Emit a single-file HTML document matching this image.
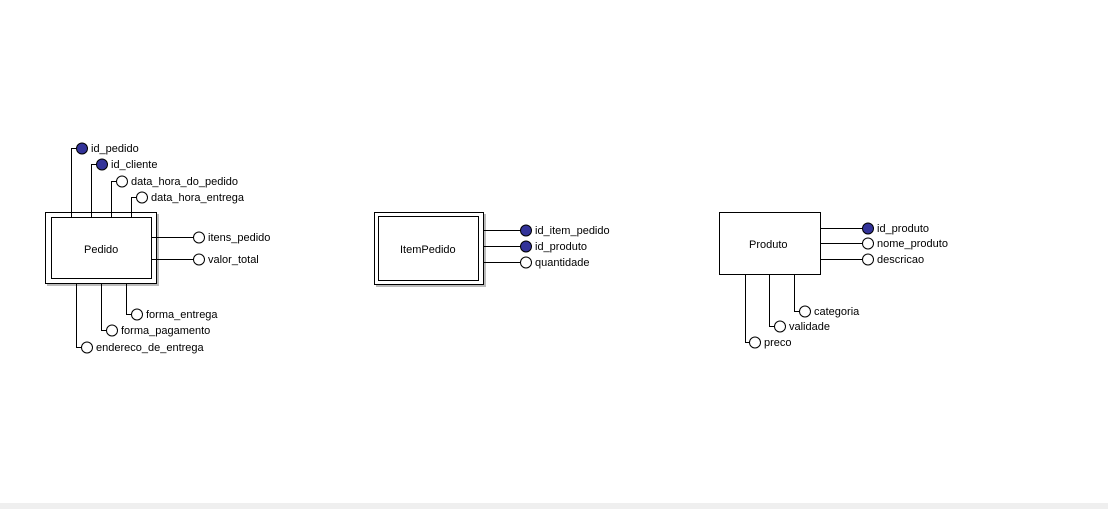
<!DOCTYPE html>
<html><head><meta charset="utf-8"><style>
html,body{margin:0;padding:0;background:#fff;width:1108px;height:509px;overflow:hidden}
svg{display:block}
text{font-family:"Liberation Sans",sans-serif;font-size:11px;fill:#000}
</style></head><body>
<svg width="1108" height="509" xmlns="http://www.w3.org/2000/svg">
<rect x="0" y="503" width="1108" height="6" fill="#efefef"/>
<g stroke="#000" stroke-width="1" fill="none" shape-rendering="crispEdges">
<!-- Pedido -->
<rect x="47" y="214" width="112" height="72" fill="#bbb" stroke="none"/>
<rect x="45.5" y="212.5" width="111" height="71" fill="#fff"/>
<rect x="51.5" y="217.5" width="100" height="61" fill="#fff"/>
<path d="M71.5 217V148.5H77 M91.5 217V164.5H97 M111.5 217V181.5H117 M131.5 217V197.5H137"/>
<path d="M152 237.5H194 M152 259.5H194"/>
<path d="M76.5 284V347.5H82 M101.5 284V330.5H107 M126.5 284V314.5H132"/>
<!-- ItemPedido -->
<rect x="376" y="214" width="110" height="73" fill="#bbb" stroke="none"/>
<rect x="374.5" y="212.5" width="109" height="72" fill="#fff"/>
<rect x="378.5" y="216.5" width="100" height="64" fill="#fff"/>
<path d="M484 230.5H521 M484 246.5H521 M484 262.5H521"/>
<!-- Produto -->
<rect x="719.5" y="212.5" width="101" height="62" fill="#fff"/>
<path d="M821 228.5H863 M821 243.5H863 M821 259.5H863"/>
<path d="M745.5 275V342.5H750 M769.5 275V326.5H775 M794.5 275V311.5H800"/>
</g>
<g stroke="#000" stroke-width="1">
<circle cx="82" cy="148.5" r="5.5" fill="#333399"/>
<circle cx="102" cy="164.5" r="5.5" fill="#333399"/>
<circle cx="122" cy="181.5" r="5.5" fill="#fff"/>
<circle cx="142" cy="197.5" r="5.5" fill="#fff"/>
<circle cx="199" cy="237.5" r="5.5" fill="#fff"/>
<circle cx="199" cy="259.5" r="5.5" fill="#fff"/>
<circle cx="137" cy="314.5" r="5.5" fill="#fff"/>
<circle cx="112" cy="330.5" r="5.5" fill="#fff"/>
<circle cx="87" cy="347.5" r="5.5" fill="#fff"/>
<circle cx="526" cy="230.5" r="5.5" fill="#333399"/>
<circle cx="526" cy="246.5" r="5.5" fill="#333399"/>
<circle cx="526" cy="262.5" r="5.5" fill="#fff"/>
<circle cx="868" cy="228.5" r="5.5" fill="#333399"/>
<circle cx="868" cy="243.5" r="5.5" fill="#fff"/>
<circle cx="868" cy="259.5" r="5.5" fill="#fff"/>
<circle cx="805" cy="311.5" r="5.5" fill="#fff"/>
<circle cx="780" cy="326.5" r="5.5" fill="#fff"/>
<circle cx="755" cy="342.5" r="5.5" fill="#fff"/>
</g>
<text x="84" y="253">Pedido</text>
<text x="400" y="253">ItemPedido</text>
<text x="749" y="248">Produto</text>
<text x="91" y="152">id_pedido</text>
<text x="111" y="168">id_cliente</text>
<text x="131" y="185">data_hora_do_pedido</text>
<text x="151" y="201">data_hora_entrega</text>
<text x="208" y="241">itens_pedido</text>
<text x="208" y="263">valor_total</text>
<text x="146" y="318">forma_entrega</text>
<text x="121" y="334">forma_pagamento</text>
<text x="96" y="351">endereco_de_entrega</text>
<text x="535" y="234">id_item_pedido</text>
<text x="535" y="250">id_produto</text>
<text x="535" y="266">quantidade</text>
<text x="877" y="232">id_produto</text>
<text x="877" y="247">nome_produto</text>
<text x="877" y="263">descricao</text>
<text x="814" y="315">categoria</text>
<text x="789" y="330">validade</text>
<text x="764" y="346">preco</text>
</svg>
</body></html>
